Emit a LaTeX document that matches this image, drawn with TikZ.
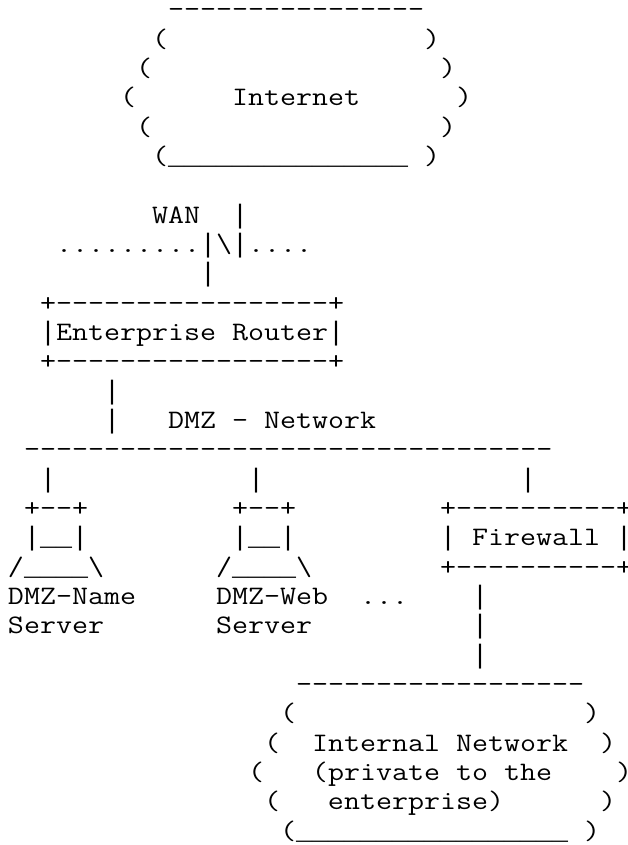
\documentclass[tikz,border=0pt]{standalone}
\usepackage{fontspec}
\newfontfamily\asciifont[FakeStretch=1.1658]{Latin Modern Mono}
\newfontfamily\asciisym{Liberation Mono}
\newcommand{\vb}{{\asciisym|}}
\newcommand{\us}{{\asciisym\_}}
\tikzset{asciirow/.style={anchor=base west,inner sep=0pt,outer sep=0pt,font=\asciifont\fontsize{26.67}{29}\selectfont,text=black}}
\newcommand{\artrow}[3]{\node[asciirow] (row#1) at ({8+16*#2},{-(18+29.33*#1)}) {\def~{\hspace*{16pt}}#3};}
\begin{document}
\begin{tikzpicture}[x=1pt,y=1pt]
\useasboundingbox[fill=white] (0,0) rectangle (627,-845);
\artrow{0}{10}{----------------}
\artrow{1}{9}{(~~~~~~~~~~~~~~~~)}
\artrow{2}{8}{(~~~~~~~~~~~~~~~~~~)}
\artrow{3}{7}{(~~~~~~Internet~~~~~~)}
\artrow{4}{8}{(~~~~~~~~~~~~~~~~~~)}
\artrow{5}{9}{(\us\us\us\us\us\us\us\us\us\us\us\us\us\us\us~)}
\artrow{7}{9}{WAN~~\vb}
\artrow{8}{3}{.........\vb\textbackslash\vb....}
\artrow{9}{12}{\vb}
\artrow{10}{2}{+-----------------+}
\artrow{11}{2}{\vb Enterprise~Router\vb}
\artrow{12}{2}{+-----------------+}
\artrow{13}{6}{\vb}
\artrow{14}{6}{\vb~~~DMZ~-~Network}
\artrow{15}{1}{---------------------------------}
\artrow{16}{2}{\vb~~~~~~~~~~~~\vb~~~~~~~~~~~~~~~~\vb}
\artrow{17}{1}{+--+~~~~~~~~~+--+~~~~~~~~~+----------+}
\artrow{18}{1}{\vb\us\us\vb~~~~~~~~~\vb\us\us\vb~~~~~~~~~\vb~Firewall~\vb}
\artrow{19}{0}{/\us\us\us\us\textbackslash~~~~~~~/\us\us\us\us\textbackslash~~~~~~~~+----------+}
\artrow{20}{0}{DMZ-Name~~~~~DMZ-Web~~...~~~~\vb}
\artrow{21}{0}{Server~~~~~~~Server~~~~~~~~~~\vb}
\artrow{22}{29}{\vb}
\artrow{23}{18}{------------------}
\artrow{24}{17}{(~~~~~~~~~~~~~~~~~~)}
\artrow{25}{16}{(~~Internal~Network~~)}
\artrow{26}{15}{(~~~(private~to~the~~~~)}
\artrow{27}{16}{(~~~enterprise)~~~~~~)}
\artrow{28}{17}{(\us\us\us\us\us\us\us\us\us\us\us\us\us\us\us\us\us~)}
\end{tikzpicture}
\end{document}
